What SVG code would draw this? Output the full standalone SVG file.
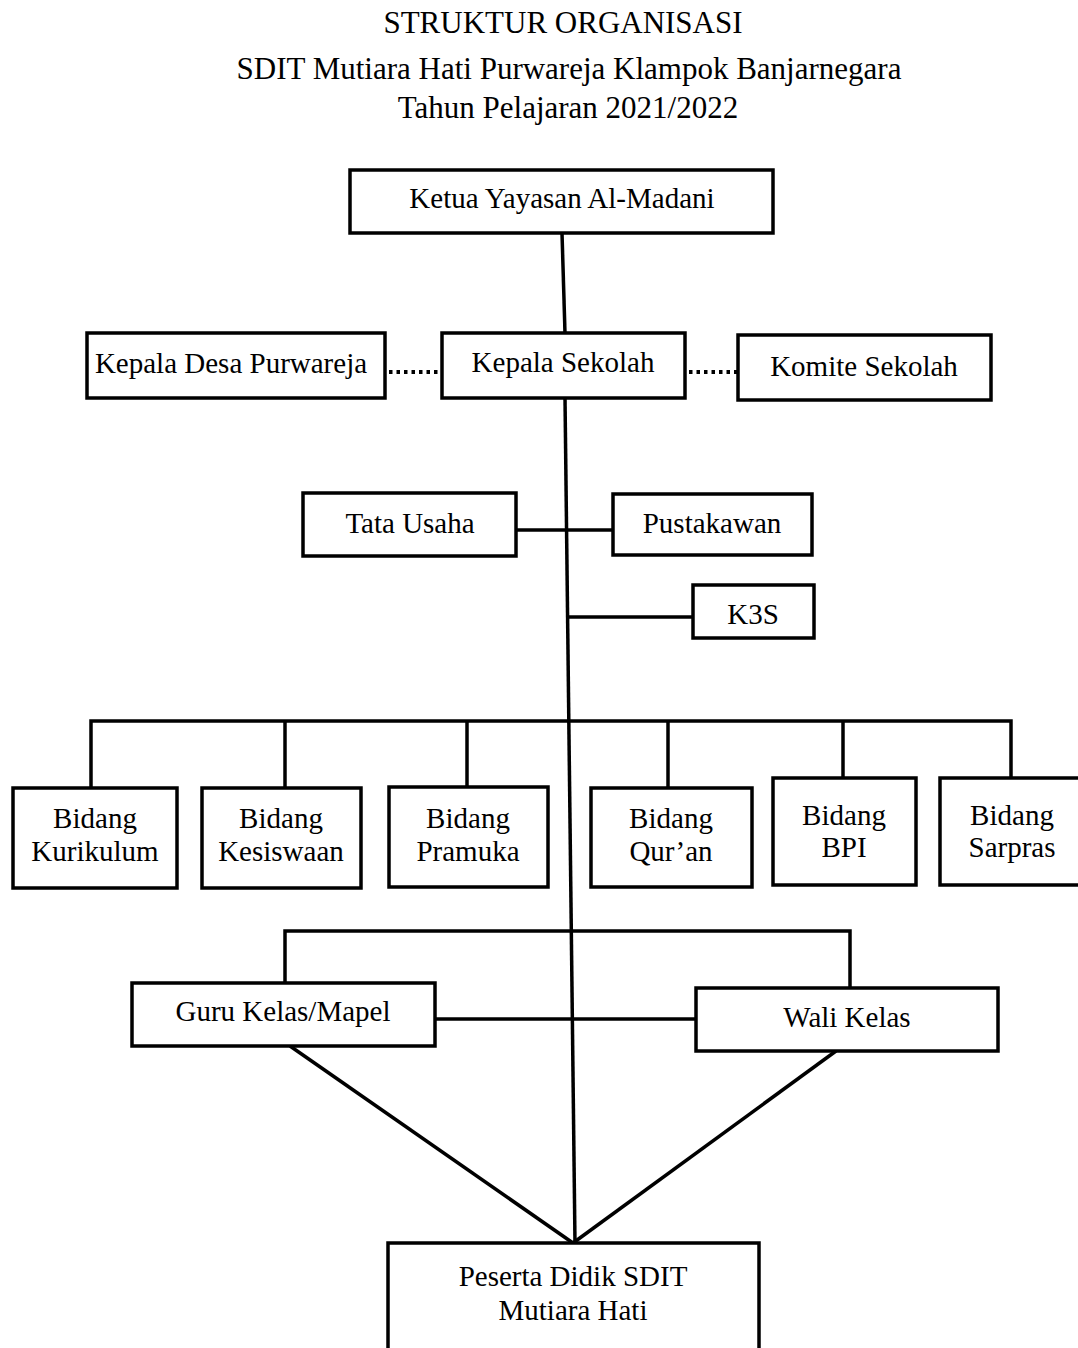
<svg xmlns="http://www.w3.org/2000/svg" width="1078" height="1348" viewBox="0 0 1078 1348">
<style>
.box{fill:#fff;stroke:#000;stroke-width:3.5}
.t{font-family:"Liberation Serif","Times New Roman",serif;font-size:29px;fill:#000;text-anchor:middle}
.title{font-family:"Liberation Serif","Times New Roman",serif;font-size:31px;fill:#000;text-anchor:middle}
.c{stroke:#000;stroke-width:3.5;fill:none}
.d{stroke:#000;stroke-width:4;fill:none;stroke-dasharray:3.5 4}
</style>
<rect width="1078" height="1348" fill="#fff"/>
<g id="title">
<text class="title" x="563" y="33">STRUKTUR ORGANISASI</text>
<text class="title" x="569" y="79">SDIT Mutiara Hati Purwareja Klampok Banjarnegara</text>
<text class="title" x="568" y="118">Tahun Pelajaran 2021/2022</text>
</g>
<g id="connectors">
<line class="c" x1="562" y1="233" x2="565" y2="333"/>
<line class="d" x1="389" y1="372" x2="442" y2="372"/>
<line class="d" x1="689" y1="372" x2="737" y2="372"/>
<line class="c" x1="565" y1="398" x2="575" y2="1243"/>
<line class="c" x1="516" y1="530" x2="613" y2="530"/>
<line class="c" x1="567" y1="617" x2="693" y2="617"/>
<polyline class="c" points="91,788 91,721 1011,721 1011,778"/>
<line class="c" x1="285" y1="721" x2="285" y2="788"/>
<line class="c" x1="467" y1="721" x2="467" y2="787"/>
<line class="c" x1="668" y1="721" x2="668" y2="788"/>
<line class="c" x1="843" y1="721" x2="843" y2="778"/>
<polyline class="c" points="285,983 285,931 850,931 850,988"/>
<line class="c" x1="435" y1="1019" x2="696" y2="1019"/>
<line class="c" x1="290" y1="1046" x2="573" y2="1243"/>
<line class="c" x1="836" y1="1051" x2="573" y2="1243"/>
</g>
<g id="ketua">
<rect class="box" x="350" y="170" width="423" height="63"/>
<text class="t" x="562" y="208">Ketua Yayasan Al-Madani</text>
</g>
<g id="kepala-desa">
<rect class="box" x="87" y="333" width="298" height="65"/>
<text class="t" x="231" y="373">Kepala Desa Purwareja</text>
</g>
<g id="kepala-sekolah">
<rect class="box" x="442" y="333" width="243" height="65"/>
<text class="t" x="563" y="372">Kepala Sekolah</text>
</g>
<g id="komite">
<rect class="box" x="738" y="335" width="253" height="65"/>
<text class="t" x="864" y="376">Komite Sekolah</text>
</g>
<g id="tata-usaha">
<rect class="box" x="303" y="493" width="213" height="63"/>
<text class="t" x="410" y="533">Tata Usaha</text>
</g>
<g id="pustakawan">
<rect class="box" x="613" y="494" width="199" height="61"/>
<text class="t" x="712" y="533">Pustakawan</text>
</g>
<g id="k3s">
<rect class="box" x="693" y="585" width="121" height="53"/>
<text class="t" x="753" y="624">K3S</text>
</g>
<g id="kurikulum">
<rect class="box" x="13" y="788" width="164" height="100"/>
<text class="t" x="95" y="828">Bidang</text>
<text class="t" x="95" y="861">Kurikulum</text>
</g>
<g id="kesiswaan">
<rect class="box" x="202" y="788" width="159" height="100"/>
<text class="t" x="281" y="828">Bidang</text>
<text class="t" x="281" y="861">Kesiswaan</text>
</g>
<g id="pramuka">
<rect class="box" x="389" y="787" width="159" height="100"/>
<text class="t" x="468" y="828">Bidang</text>
<text class="t" x="468" y="861">Pramuka</text>
</g>
<g id="quran">
<rect class="box" x="591" y="788" width="161" height="99"/>
<text class="t" x="671" y="828">Bidang</text>
<text class="t" x="671" y="861">Qur’an</text>
</g>
<g id="bpi">
<rect class="box" x="773" y="778" width="143" height="107"/>
<text class="t" x="844" y="825">Bidang</text>
<text class="t" x="844" y="857">BPI</text>
</g>
<g id="sarpras">
<rect class="box" x="940" y="778" width="142" height="107"/>
<text class="t" x="1012" y="825">Bidang</text>
<text class="t" x="1012" y="857">Sarpras</text>
</g>
<g id="guru">
<rect class="box" x="132" y="983" width="303" height="63"/>
<text class="t" x="283" y="1021">Guru Kelas/Mapel</text>
</g>
<g id="wali">
<rect class="box" x="696" y="988" width="302" height="63"/>
<text class="t" x="847" y="1027">Wali Kelas</text>
</g>
<g id="peserta">
<rect class="box" x="388" y="1243" width="371" height="112"/>
<text class="t" x="573" y="1286">Peserta Didik SDIT</text>
<text class="t" x="573" y="1320">Mutiara Hati</text>
</g>
</svg>
